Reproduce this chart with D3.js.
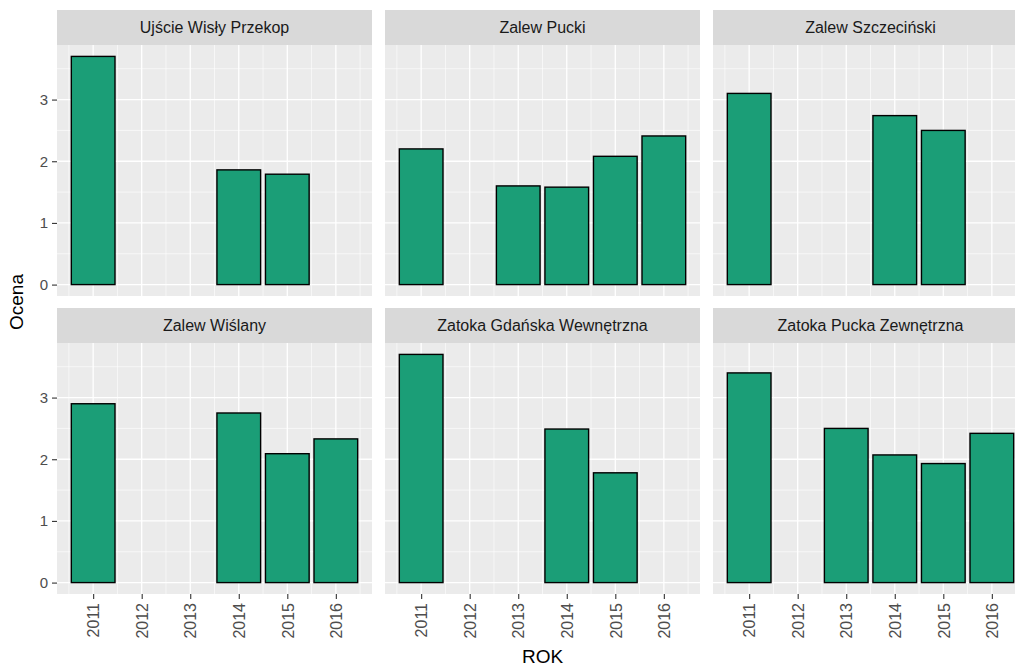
<!DOCTYPE html>
<html>
<head>
<meta charset="utf-8">
<script src="https://cdnjs.cloudflare.com/ajax/libs/d3/7.8.5/d3.min.js"></script>
<style>
body { margin: 0; background: #ffffff; }
svg text { font-family: "Liberation Sans", Arial, sans-serif; }
</style>
</head>
<body>
<div id="canvas"></div>
<script>
// ----------------------------------------------------------
// DATA -----------------------------------------------------
// ----------------------------------------------------------
var facets = ["Ujście Wisły Przekop", "Zalew Pucki", "Zalew Szczeciński",
  "Zalew Wiślany", "Zatoka Gdańska Wewnętrzna", "Zatoka Pucka Zewnętrzna"];
var years = [2011, 2012, 2013, 2014, 2015, 2016];
// one value per year, null = no bar
var values_1 = [3.70, null, null, 1.86, 1.79, null];
var values_2 = [2.20, null, 1.60, 1.58, 2.08, 2.41];
var values_3 = [3.10, null, null, 2.74, 2.50, null];
var values_4 = [2.90, null, null, 2.75, 2.09, 2.33];
var values_5 = [3.70, null, null, 2.49, 1.78, null];
var values_6 = [3.40, null, 2.50, 2.07, 1.93, 2.42];
var values_all = [values_1, values_2, values_3, values_4, values_5, values_6];
var y_ticks = [0, 1, 2, 3];

// ----------------------------------------------------------
// SETTINGS -------------------------------------------------
// ----------------------------------------------------------
var width = 1015, height = 666;
var panel_left = [57, 385, 713];
var panel_width = 315;
var strip_top = [10, 308];
var strip_height = 35;
var panel_height = 251;
var bar_width = 0.9;

var color_panel = "#ebebeb",
  color_strip = "#d9d9d9",
  color_bar = "#1b9e77",
  color_tick_text = "#4d4d4d",
  color_tick = "#333333";

// build rows for bars
var bars = [];
values_all.forEach(function(vals, f) {
  vals.forEach(function(v, i) {
    if (v !== null) bars.push({ facet: f, year: years[i], value: v });
  });
});

// ----------------------------------------------------------
// SCALES ---------------------------------------------------
// ----------------------------------------------------------
var x_min = d3.min(years) - bar_width / 2, x_max = d3.max(years) + bar_width / 2;
var x_pad = (x_max - x_min) * 0.05;
var xScale = d3.scaleLinear()
  .domain([x_min - x_pad, x_max + x_pad])
  .range([0, panel_width]);

var y_max = d3.max(bars, function(d) { return d.value; });
var y_pad = y_max * 0.05;
var yScale = d3.scaleLinear()
  .domain([-y_pad, y_max + y_pad])
  .range([panel_height, 0]);

// minor breaks halfway between majors
var x_minor = [];
for (var i = 0; i < years.length - 1; i++) x_minor.push((years[i] + years[i + 1]) / 2);
x_minor.unshift(years[0] - 0.5);
x_minor.push(years[years.length - 1] + 0.5);
var y_minor = y_ticks.map(function(t) { return t + 0.5; });

// ----------------------------------------------------------
// STRUCTURE ------------------------------------------------
// ----------------------------------------------------------
var svg = d3.select("#canvas").append("svg")
  .attr("width", width)
  .attr("height", height)
  .style("background-color", "#ffffff");

// ----------------------------------------------------------
// PANELS ---------------------------------------------------
// ----------------------------------------------------------
facets.forEach(function(name, f) {
  var col = f % 3, row = Math.floor(f / 3);
  var px = panel_left[col], sy = strip_top[row], py = sy + strip_height;

  // strip
  svg.append("rect")
    .attr("x", px).attr("y", sy)
    .attr("width", panel_width).attr("height", strip_height)
    .style("fill", color_strip);
  svg.append("text")
    .attr("x", px + panel_width / 2)
    .attr("y", sy + strip_height / 2)
    .attr("dy", "0.36em")
    .attr("text-anchor", "middle")
    .style("font-size", "16px")
    .style("fill", "#1a1a1a")
    .text(name);

  var g = svg.append("g").attr("transform", "translate(" + px + "," + py + ")");

  g.append("rect")
    .attr("width", panel_width).attr("height", panel_height)
    .style("fill", color_panel);

  // grid minor
  g.selectAll(".gx_minor").data(x_minor).enter().append("line")
    .attr("x1", function(d) { return xScale(d); })
    .attr("x2", function(d) { return xScale(d); })
    .attr("y1", 0).attr("y2", panel_height)
    .attr("stroke", "#ffffff").attr("stroke-width", 0.6);
  g.selectAll(".gy_minor").data(y_minor).enter().append("line")
    .attr("y1", function(d) { return yScale(d); })
    .attr("y2", function(d) { return yScale(d); })
    .attr("x1", 0).attr("x2", panel_width)
    .attr("stroke", "#ffffff").attr("stroke-width", 0.6);
  // grid major
  g.selectAll(".gx_major").data(years).enter().append("line")
    .attr("x1", function(d) { return xScale(d); })
    .attr("x2", function(d) { return xScale(d); })
    .attr("y1", 0).attr("y2", panel_height)
    .attr("stroke", "#ffffff").attr("stroke-width", 1.3);
  g.selectAll(".gy_major").data(y_ticks).enter().append("line")
    .attr("y1", function(d) { return yScale(d); })
    .attr("y2", function(d) { return yScale(d); })
    .attr("x1", 0).attr("x2", panel_width)
    .attr("stroke", "#ffffff").attr("stroke-width", 1.3);

  // bars
  var bw = xScale(bar_width) - xScale(0);
  g.selectAll(".bar").data(bars.filter(function(d) { return d.facet === f; }))
    .enter().append("rect")
    .attr("x", function(d) { return xScale(d.year) - bw / 2; })
    .attr("y", function(d) { return yScale(d.value); })
    .attr("width", bw)
    .attr("height", function(d) { return yScale(0) - yScale(d.value); })
    .style("fill", color_bar)
    .attr("stroke", "#000000")
    .attr("stroke-width", 1.4);

  // y axis on first column
  if (col === 0) {
    var ay = g.append("g")
      .call(d3.axisLeft(yScale).tickValues(y_ticks).tickFormat(d3.format("d")).tickSize(5).tickPadding(4));
    ay.select(".domain").remove();
    ay.selectAll(".tick line").attr("stroke", color_tick).attr("stroke-width", 1.1);
    ay.selectAll(".tick text").style("font-size", "15px").style("fill", color_tick_text)
      .style("font-family", "'Liberation Sans', Arial, sans-serif");
  }

  // x axis on the bottom row
  if (row === 1) {
    var ax = g.append("g")
      .attr("transform", "translate(0," + panel_height + ")")
      .call(d3.axisBottom(xScale).tickValues(years).tickFormat(d3.format("d")).tickSize(5));
    ax.select(".domain").remove();
    ax.selectAll(".tick line").attr("stroke", color_tick).attr("stroke-width", 1.1);
    ax.selectAll(".tick text")
      .attr("transform", "rotate(-90)")
      .attr("text-anchor", "end")
      .attr("x", -9).attr("y", 0).attr("dy", "0.36em")
      .style("font-size", "16px").style("fill", color_tick_text)
      .style("font-family", "'Liberation Sans', Arial, sans-serif");
  }
});

// ----------------------------------------------------------
// TEXT -----------------------------------------------------
// ----------------------------------------------------------
svg.append("text")
  .attr("transform", "translate(16," + ((strip_top[0] + strip_top[1] + strip_height + panel_height) / 2) + ") rotate(-90)")
  .attr("text-anchor", "middle")
  .attr("dy", "0.36em")
  .style("font-size", "19px")
  .style("fill", "#000000")
  .text("Ocena");

svg.append("text")
  .attr("x", (panel_left[0] + panel_left[2] + panel_width) / 2)
  .attr("y", 663)
  .attr("text-anchor", "middle")
  .style("font-size", "19px")
  .style("fill", "#000000")
  .text("ROK");
</script>
</body>
</html>
